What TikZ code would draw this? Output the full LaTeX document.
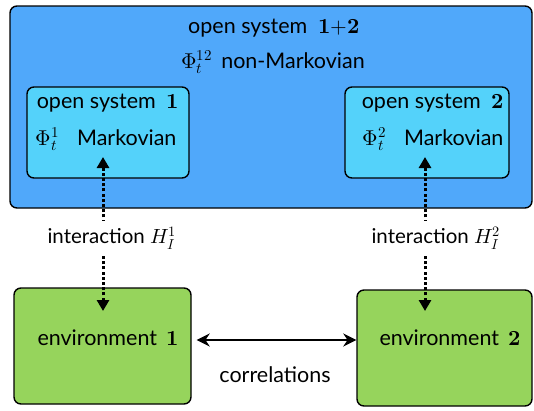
\documentclass[tikz,border=0pt]{standalone}
\usepackage{unicode-math}
\setmainfont{Lato}
\setmathfont{Latin Modern Math}
\usetikzlibrary{arrows.meta}
\definecolor{outerblue}{RGB}{80,168,250}
\definecolor{innercyan}{RGB}{84,210,250}
\definecolor{envgreen}{RGB}{150,212,92}
\tikzset{
  box/.style={draw=black, line width=1.4pt, rounded corners=7pt, inner sep=0pt},
  lbl/.style={font=\fontsize{21.5}{24}\selectfont, inner sep=1pt},
  sml/.style={font=\fontsize{20.5}{23}\selectfont, inner sep=1pt},
  dotarrow/.style={line width=3pt, dash pattern=on 3pt off 2.2pt, {Triangle[length=11pt,width=12pt]}-{Triangle[length=11pt,width=12pt]}},
  corr/.style={line width=2.4pt, {Stealth[length=13pt,width=13pt]}-{Stealth[length=13pt,width=13pt]}}
}
\begin{document}
\begin{tikzpicture}[x=1pt,y=-1pt]
\useasboundingbox (0,0) rectangle (534,410);
% outer box
\node[box, fill=outerblue, minimum width=522pt, minimum height=202pt] (outer) at (271,107) {};
\node[lbl] (t12) at (274,28) {open system \ $\symbf{1{+}2}$};
\node[lbl] (phi12) at (273,62) {$\Phi_t^{12}$\hspace{9pt}non-Markovian};
% inner boxes
\node[box, fill=innercyan, minimum width=162pt, minimum height=91pt] (s1) at (108,132.5) {};
\node[box, fill=innercyan, minimum width=164pt, minimum height=91pt] (s2) at (427,132.5) {};
\node[lbl] (s1t) at (108,103) {open system \ $\symbf{1}$};
\node[lbl] (s1p) at (106,139) {$\Phi_t^{1}$\hspace{18pt}Markovian};
\node[lbl] (s2t) at (433,103) {open system \ $\symbf{2}$};
\node[lbl] (s2p) at (433,139) {$\Phi_t^{2}$\hspace{18pt}Markovian};
% environments
\node[box, fill=envgreen, minimum width=177pt, minimum height=116pt] (e1) at (102.5,346) {};
\node[box, fill=envgreen, minimum width=175pt, minimum height=116pt] (e2) at (444.5,348) {};
\node[lbl] (e1t) at (108,338) {environment \,$\symbf{1}$};
\node[lbl] (e2t) at (450,338) {environment \,$\symbf{2}$};
% interaction arrows
\coordinate (a1top) at (103,157);
\coordinate (a1bot) at (103,311);
\coordinate (a2top) at (425,157);
\coordinate (a2bot) at (425,311);
\draw[dotarrow] (a1bot) -- (a1top);
\draw[dotarrow] (a2bot) -- (a2top);
\node[sml, fill=white, inner xsep=2pt, inner ysep=6pt] (i1) at (112,238) {interaction $H_I^1$};
\node[sml, fill=white, inner xsep=2pt, inner ysep=6pt] (i2) at (436,238) {interaction $H_I^2$};
% correlations
\draw[corr] (e1.east |- 0,340) ++(5,0) coordinate (c1) -- (e2.west |- 0,340) ;
\node[lbl] (corrl) at (275,375) {correlations};
\end{tikzpicture}
\end{document}
